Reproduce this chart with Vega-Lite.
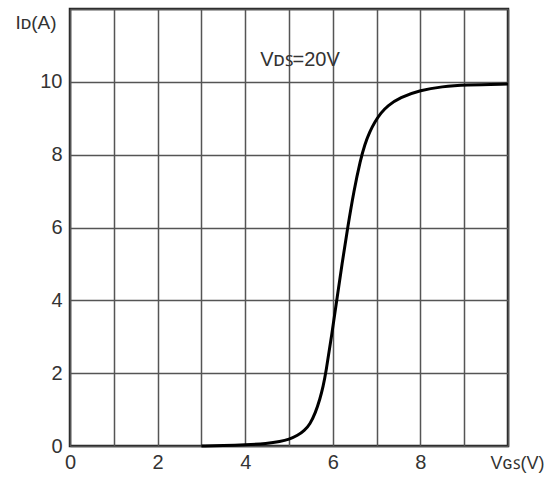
{
  "$schema": "https://vega.github.io/schema/vega-lite/v6.json",
  "width": 438,
  "height": 437,
  "autosize": "none",
  "padding": {"left": 70, "right": 44, "top": 9, "bottom": 31},
  "background": "white",
  "config": {
    "font": "Liberation Sans",
    "view": {"stroke": "#222222", "strokeWidth": 2.5},
    "axis": {
      "grid": true,
      "gridColor": "#555555",
      "gridWidth": 1.5,
      "gridOpacity": 1,
      "domain": false,
      "ticks": false,
      "labelFlush": false,
      "labelFont": "Liberation Sans",
      "labelFontSize": 20,
      "labelColor": "#333333",
      "titleFont": "Liberation Sans",
      "titleFontSize": 19,
      "titleFontWeight": "normal",
      "titleColor": "#333333"
    }
  },
  "datasets": {
    "curve": [
      {"vgs": 3.0, "id": 0.0},
      {"vgs": 3.5, "id": 0.01},
      {"vgs": 4.0, "id": 0.03},
      {"vgs": 4.5, "id": 0.07},
      {"vgs": 4.8, "id": 0.12},
      {"vgs": 5.0, "id": 0.18},
      {"vgs": 5.2, "id": 0.29},
      {"vgs": 5.35, "id": 0.42},
      {"vgs": 5.48, "id": 0.6},
      {"vgs": 5.6, "id": 0.9},
      {"vgs": 5.71, "id": 1.3},
      {"vgs": 5.78, "id": 1.64},
      {"vgs": 5.84, "id": 2.0},
      {"vgs": 5.97, "id": 3.0},
      {"vgs": 6.09, "id": 4.0},
      {"vgs": 6.21, "id": 5.0},
      {"vgs": 6.34, "id": 6.0},
      {"vgs": 6.48, "id": 7.0},
      {"vgs": 6.63, "id": 7.85},
      {"vgs": 6.73, "id": 8.28},
      {"vgs": 6.84, "id": 8.62},
      {"vgs": 6.96, "id": 8.9},
      {"vgs": 7.1, "id": 9.15},
      {"vgs": 7.25, "id": 9.34},
      {"vgs": 7.53, "id": 9.57},
      {"vgs": 8.0, "id": 9.77},
      {"vgs": 8.5, "id": 9.87},
      {"vgs": 9.0, "id": 9.92},
      {"vgs": 10.0, "id": 9.94}
    ],
    "note": [{"vgs": 5.25, "id": 10.6, "text": "Vᴅꜱ=20V"}]
  },
  "layer": [
    {
      "data": {"name": "curve"},
      "mark": {"type": "line", "color": "black", "strokeWidth": 3, "interpolate": "basis"},
      "encoding": {
        "x": {
          "field": "vgs", "type": "quantitative",
          "scale": {"domain": [0, 10], "nice": false, "zero": false},
          "axis": {
            "values": [0, 1, 2, 3, 4, 5, 6, 7, 8, 9, 10],
            "labelExpr": "datum.value % 2 == 0 && datum.value < 10 ? datum.label : ''",
            "labelPadding": 6,
            "title": "Vɢꜱ(V)",
            "titleFontSize": 18,
            "titleX": 420, "titleY": 17, "titleAlign": "left", "titleBaseline": "middle"
          }
        },
        "y": {
          "field": "id", "type": "quantitative",
          "scale": {"domain": [0, 12], "nice": false},
          "axis": {
            "values": [0, 1, 2, 3, 4, 5, 6, 7, 8, 9, 10, 11, 12],
            "labelExpr": "datum.value % 2 == 0 && datum.value < 12 ? datum.label : ''",
            "labelPadding": 8,
            "title": "Iᴅ(A)",
            "titleAngle": 0, "titleX": -55, "titleY": 13, "titleAlign": "left", "titleBaseline": "middle"
          }
        }
      }
    },
    {
      "data": {"name": "note"},
      "mark": {"type": "text", "fontSize": 20, "color": "#333333", "font": "Liberation Sans"},
      "encoding": {
        "x": {"field": "vgs", "type": "quantitative"},
        "y": {"field": "id", "type": "quantitative"},
        "text": {"field": "text"}
      }
    }
  ]
}
